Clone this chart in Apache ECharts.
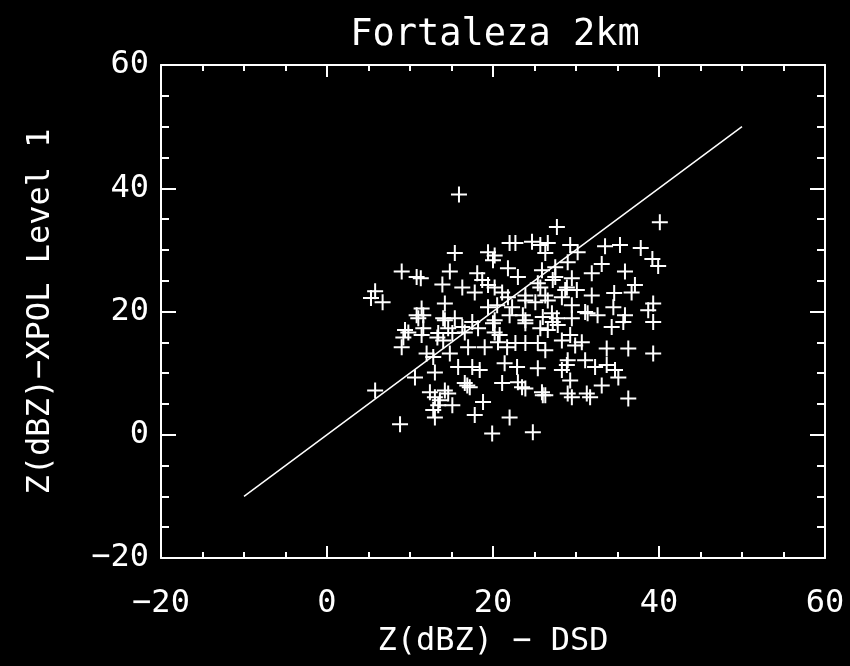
<!DOCTYPE html>
<html>
<head>
<meta charset="utf-8">
<script src="https://cdn.jsdelivr.net/npm/echarts@6/dist/echarts.min.js"></script>
<style>
html,body{margin:0;padding:0;background:#000;}
#chart{width:850px;height:666px;}
</style>
</head>
<body>
<div id="chart"></div>
<script>
// Scatter values
var xs = [15.9,40.1,27.7,22.7,24.7,26.6,29.3,30.2,33.5,35.3,
37.8,39.2,39.9,33.1,31.9,35.9,37.1,29.5,31.9,34.6,
36.7,39.3,38.7,31.1,32.6,34.5,35.7,39.3,21.8,25.9,
27.5,23.0,25.4,27.5,21.8,23.9,26.3,28.7,15.4,19.4,
20.0,22.0,9.0,10.8,11.3,14.8,13.9,16.3,18.1,18.7,
17.8,19.4,5.8,5.3,6.7,14.2,11.4,21.1,10.8,11.6,
14.2,15.4,9.8,9.2,9.0,11.4,12.0,12.8,13.4,14.0,
15.1,14.8,16.6,17.0,15.8,17.5,18.4,13.0,10.6,5.8,
16.6,17.2,12.4,13.0,14.2,15.1,12.8,13.0,13.6,18.8,
17.8,21.1,22.0,19.9,8.8,19.4,20.2,20.2,20.6,21.7,
21.4,22.3,23.9,27.1,27.8,26.6,25.4,23.9,26.3,30.7,
31.4,34.3,35.9,33.7,36.3,39.3,31.1,29.0,28.3,29.3,
32.3,33.7,34.7,35.1,33.1,31.3,31.7,29.0,26.3,25.9,
23.9,23.0,25.4,22.9,36.3,24.8,25.7,26.3,29.0,20.2,
25.7,27.2,28.9,30.1,20.2,23.9,25.1,26.6,28.3,29.5,
20.5,22.0,23.6,26.0,27.7,29.5,20.0,20.8,22.7,23.9,
25.7,27.2,28.3,29.3,29.9,28.9,29.5,23.5,26.0,9.4,
11.6,11.0,14.0,14.6,16.3,17.5,18.2,13.3,19.0,16.9,
14.6,13.4];
var ys = [39.0,34.5,33.7,31.1,31.3,31.1,30.8,29.6,30.6,30.8,
30.3,28.5,27.4,27.7,26.2,26.5,24.3,25.4,22.6,23.0,
23.1,21.3,20.2,19.9,19.4,20.7,18.3,18.3,27.0,26.7,
27.2,25.6,24.6,25.6,22.3,22.6,22.6,23.5,29.5,29.6,
28.3,31.1,26.5,25.6,25.4,26.5,24.4,23.9,26.2,25.1,
23.1,24.3,23.3,22.2,21.5,21.3,20.5,23.1,19.4,19.4,
18.6,18.9,16.6,15.8,14.2,16.2,13.2,12.6,16.5,15.3,
16.5,13.2,16.6,14.2,11.0,11.0,10.5,10.1,9.3,7.2,
8.4,7.7,6.9,6.1,7.2,4.8,4.0,2.8,5.6,5.3,
3.2,8.4,2.8,0.2,1.7,20.7,18.6,16.6,15.0,14.2,
11.6,20.7,18.6,19.7,17.8,17.0,14.9,14.9,13.7,15.0,
19.7,17.5,19.4,14.0,14.0,13.2,12.1,12.1,10.5,8.8,
11.0,11.3,10.5,9.3,8.0,6.7,6.1,6.7,6.4,6.9,
7.5,8.5,10.8,11.0,5.9,0.4,30.8,29.5,28.0,29.1,
23.9,25.1,23.9,23.5,23.9,21.8,21.5,21.8,22.3,21.0,
21.0,19.4,19.4,19.1,18.9,18.9,18.1,16.2,14.9,18.1,
17.3,18.3,15.3,16.2,14.5,11.3,6.1,7.7,6.4,17.0,
17.3,18.9,18.9,17.3,17.5,18.3,17.3,15.8,14.2,8.0,
6.7,4.8];
// One-to-one reference line
var lineX = [-10, 50];
var lineY = [-10, 50];
// Axis ranges / ticks
var xRange = [-20, 60];
var yRange = [-20, 60];
var majorStep = 20;

var n = Math.min(xs.length, ys.length);
var pts = [];
for (var i = 0; i < n; i++) pts.push([xs[i], ys[i]]);
var linePts = lineX.map(function (v, k) { return [v, lineY[k]]; });

var FONT = "'DejaVu Sans Mono', monospace";
var W = '#ffffff';
function fmt(v) { return String(v).replace('-', '\u2212'); }

function mkAxis(pos, isX, showLabel, name) {
  var range = isX ? xRange : yRange;
  var a = {
    type: 'value', gridIndex: 0, position: pos,
    min: range[0], max: range[1], interval: majorStep,
    axisLine: { show: true, onZero: false, lineStyle: { color: W, width: 2 } },
    axisTick: { show: true, inside: true, length: isX ? 12 : 15, lineStyle: { color: W, width: 2 } },
    minorTick: { show: true, splitNumber: 4, length: isX ? 6 : 8, lineStyle: { color: W, width: 2 } },
    splitLine: { show: false },
    minorSplitLine: { show: false },
    axisLabel: { show: showLabel, color: W, fontSize: 32, fontFamily: FONT, margin: isX ? 30 : 12, formatter: fmt,
                 showMinLabel: true, showMaxLabel: true, hideOverlap: false },
  };
  if (name) {
    a.name = name;
    a.nameLocation = 'middle';
    a.nameGap = isX ? 68 : 104;
    a.nameTextStyle = { color: W, fontSize: 32, fontFamily: FONT };
  }
  return a;
}

var chart = echarts.init(document.getElementById('chart'), null, { renderer: 'canvas' });
chart.setOption({
  backgroundColor: '#000',
  animation: false,
  title: {
    text: 'Fortaleza 2km', left: 490, top: 12, textAlign: 'center',
    textStyle: { color: W, fontSize: 37, fontWeight: 'normal', fontFamily: FONT }
  },
  grid: { left: 161, right: 25, top: 65, bottom: 108, containLabel: false, outerBoundsMode: 'none' },
  xAxis: [
    mkAxis('bottom', true, true, 'Z(dBZ) \u2212 DSD'),
    mkAxis('top', true, false, null)
  ],
  yAxis: [
    mkAxis('left', false, true, 'Z(dBZ)\u2212XPOL Level 1'),
    mkAxis('right', false, false, null)
  ],
  series: [
    {
      type: 'line', xAxisIndex: 0, yAxisIndex: 0, data: linePts,
      showSymbol: false, symbol: 'none', silent: true,
      lineStyle: { color: W, width: 1.5 }, z: 1
    },
    {
      type: 'scatter', xAxisIndex: 0, yAxisIndex: 0, data: pts,
      symbol: 'path://M4.375,0 H5.625 V4.375 H10 V5.625 H5.625 V10 H4.375 V5.625 H0 V4.375 H4.375 Z',
      symbolSize: 16,
      itemStyle: { color: W, opacity: 1 }, z: 2, silent: true
    }
  ]
});
</script>
</body>
</html>
